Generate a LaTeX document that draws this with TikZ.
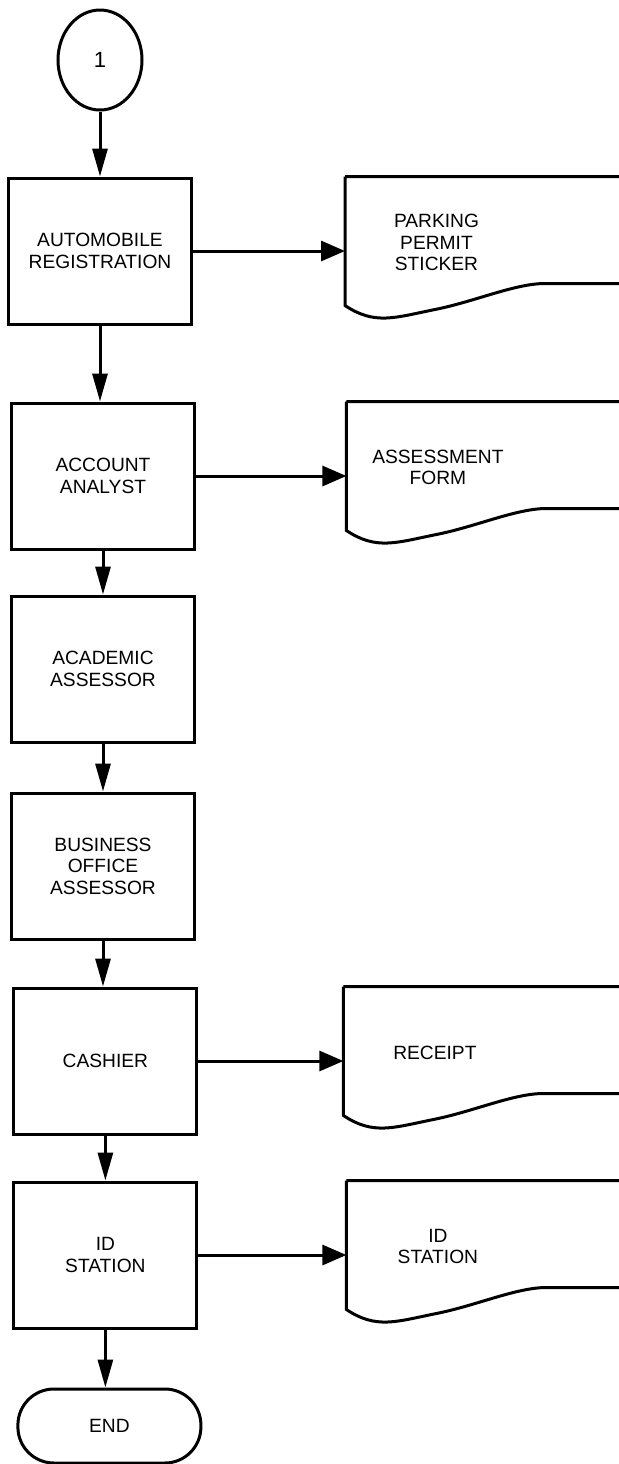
\documentclass[tikz,border=0pt]{standalone}
\usepackage{fontspec}
\setmainfont{Liberation Sans}
\usetikzlibrary{arrows.meta,positioning,shapes.geometric}
\newcommand{\boxfont}{\fontsize{9.6}{10.8}\selectfont}
\newcommand{\docoutline}[1]{%
  \draw (#1.north west) -- ++(0,-64.5pt)
    .. controls +(15pt,-10pt) and +(-20pt,-4pt) .. ++(45pt,-2pt)
    .. controls +(20pt,4pt) and +(-15pt,0pt) .. ++(55pt,13pt)
    -- ++(60pt,0) |- (#1.north west);}

\begin{document}
\begin{tikzpicture}[
  line width=1.5pt,
  >={Triangle[length=14pt,width=7.5pt]},
  box/.style={rectangle, draw=black, align=center, minimum width=91.5pt, minimum height=73pt, font=\boxfont},
  doc/.style={rectangle, align=center, minimum width=90pt, minimum height=64.5pt, inner sep=0pt, font=\boxfont},
  connector/.style={ellipse, draw=black, minimum width=42pt, minimum height=50pt, inner sep=0pt, font=\fontsize{11}{12}\selectfont},
  terminal/.style={rectangle, rounded corners=18pt, draw=black, minimum width=91.5pt, minimum height=37pt, font=\boxfont},
  docarrow/.style={->, >={Triangle[length=12pt,width=10pt]}},
]
\useasboundingbox (0,0) rectangle (309.5pt,-732pt);
\clip (0,0) rectangle (309.5pt,-732pt);

\node[connector] (start) at (50pt,-30pt) {1};
\node[box, below=32.5pt of start] (autoreg) {AUTOMOBILE\\REGISTRATION};
\node[doc, right=76pt of autoreg.north east, anchor=north west] (sticker) {PARKING\\PERMIT\\STICKER};
\node[box, below=38pt of autoreg, xshift=1.5pt] (analyst) {ACCOUNT\\ANALYST};
\node[doc, right=75.2pt of analyst.north east, anchor=north west] (assessform) {ASSESSMENT\\FORM};
\node[box, below=22pt of analyst] (academic) {ACADEMIC\\ASSESSOR};
\node[box, below=24pt of academic] (busoffice) {BUSINESS\\OFFICE\\ASSESSOR};
\node[box, below=23pt of busoffice, xshift=1.2pt] (cashier) {CASHIER};
\node[doc, right=72.5pt of cashier.north east, anchor=north west] (receipt) {RECEIPT};
\node[box, below=22.5pt of cashier] (idstation) {ID\\STATION};
\node[doc, right=74pt of idstation.north east, anchor=north west] (idcard) {ID\\STATION};
\node[terminal, below=29pt of idstation, xshift=2pt] (finish) {END};

\docoutline{sticker}
\docoutline{assessform}
\docoutline{receipt}
\docoutline{idcard}

\draw[->] (start) -- (start |- autoreg.north);
\draw[->] (autoreg) -- (autoreg |- analyst.north);
\draw[->] (analyst) -- (academic);
\draw[->] (academic) -- (busoffice);
\draw[->] (busoffice) -- (busoffice |- cashier.north);
\draw[->] (cashier) -- (idstation);
\draw[->] (idstation) -- (idstation |- finish.north);
\draw[docarrow] (autoreg) -- (autoreg -| sticker.west);
\draw[docarrow] (analyst) -- (analyst -| assessform.west);
\draw[docarrow] (cashier) -- (cashier -| receipt.west);
\draw[docarrow] (idstation) -- (idstation -| idcard.west);
\end{tikzpicture}
\end{document}
